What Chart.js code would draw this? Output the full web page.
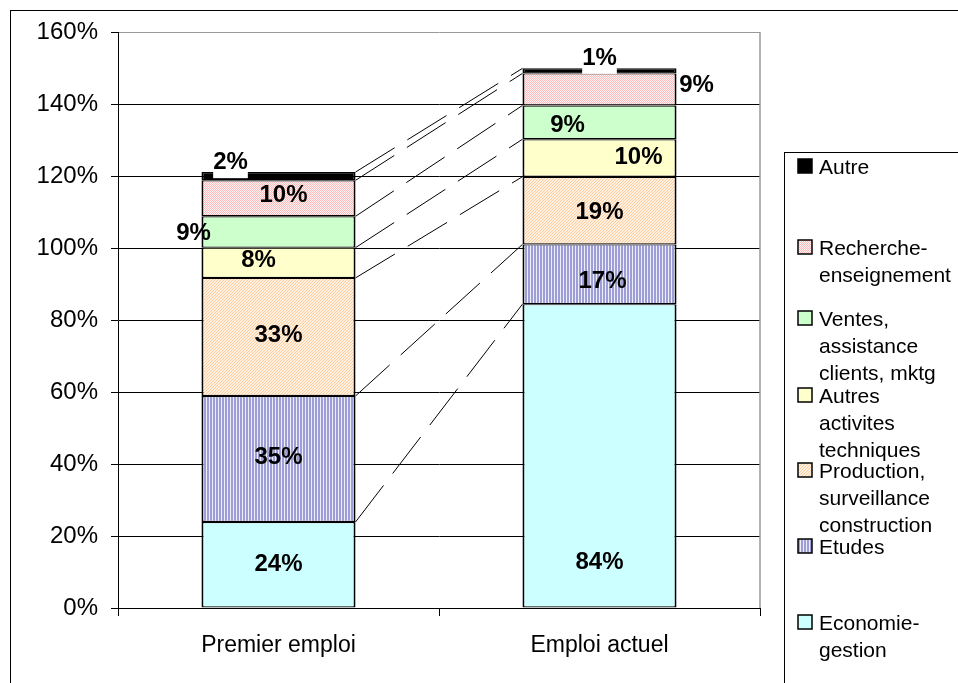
<!DOCTYPE html>
<html>
<head>
<meta charset="utf-8">
<script src="https://cdn.jsdelivr.net/npm/chart.js@4/dist/chart.umd.min.js"></script>
<style>
  html, body { margin: 0; padding: 0; background: #fff; }
</style>
</head>
<body>
<canvas id="chart" width="958" height="683"></canvas>
<script>
// categories and series (percent of graduates, bars sum over 100)
const categories = ['Premier emploi', 'Emploi actuel'];
const economieGestion = [23.9, 84.4];
const etudes = [35.0, 16.6];
const production = [32.8, 18.8];
const autresActivites = [8.4, 10.4];
const ventes = [8.7, 9.4];
const recherche = [10.0, 8.9];
const autre = [2.3, 1.4];
const seriesNames = ['Economie-gestion', 'Etudes', 'Production, surveillance construction',
  'Autres activites techniques', 'Ventes, assistance clients, mktg', 'Recherche-enseignement', 'Autre'];
const yTicks = [0, 20, 40, 60, 80, 100, 120, 140, 160];

const FONT = '"Liberation Sans", Arial, sans-serif';

function makePattern(w, h, draw) {
  const c = document.createElement('canvas');
  c.width = w; c.height = h;
  const g = c.getContext('2d');
  draw(g);
  return g.createPattern(c, 'repeat');
}
const px = (g, x, y, col) => { g.fillStyle = col; g.fillRect(x, y, 1, 1); };

const stripes = makePattern(3, 1, g => {
  g.fillStyle = '#9e9ed6'; g.fillRect(0, 0, 2, 1);
  px(g, 2, 0, '#eeeefb');
});
const hatch = makePattern(3, 3, g => {
  g.fillStyle = '#fff0e2'; g.fillRect(0, 0, 3, 3);
  for (let i = 0; i < 3; i++) px(g, i, 2 - i, '#ffcc9c');
});
const dots = makePattern(2, 2, g => {
  g.fillStyle = '#fff2f2'; g.fillRect(0, 0, 2, 2);
  px(g, 0, 0, '#ffbcbc'); px(g, 1, 1, '#ffbcbc');
});

const fills = ['#ccffff', stripes, hatch, '#ffffcc', '#ccffcc', dots, '#000000'];

// legend text broken like the original, and where each item sits
const legendLines = [['Economie-', 'gestion'], ['Etudes'], ['Production,', 'surveillance', 'construction'],
  ['Autres', 'activites', 'techniques'], ['Ventes,', 'assistance', 'clients, mktg'],
  ['Recherche-', 'enseignement'], ['Autre']];
const legendBaseline = [630, 554, 478, 403, 326, 255, 174];

// hand placed label offsets from segment centre [dx, dy] per bar
const labelOffsets = [
  [[0, 0], [0, 107]],
  [[0, -2], [3, 7]],
  [[0, -2], [0, 2]],
  [[-20, -2], [39, -1]],
  [[-85, 1], [-32, 3]],
  [[5, -3], [97, -4]],
  [[-48, -14], [0, -13]]
];
const labelBoxed = [false, false, false, false, false, false, true];

const values = [economieGestion, etudes, production, autresActivites, ventes, recherche, autre];

const frame = {
  id: 'frame',
  beforeDraw(chart) {
    const ctx = chart.ctx;
    ctx.save();
    ctx.fillStyle = '#fff';
    ctx.fillRect(0, 0, chart.width, chart.height);
    ctx.strokeStyle = '#000';
    ctx.lineWidth = 1;
    ctx.strokeRect(10.5, 10.5, chart.width + 20, chart.height + 20);
    ctx.restore();
  },
  beforeDatasetsDraw(chart) {
    const { ctx, chartArea: a } = chart;
    ctx.save();
    ctx.strokeStyle = '#999';
    ctx.lineWidth = 1.5;
    ctx.beginPath();
    ctx.moveTo(a.right, a.top);
    ctx.lineTo(a.right, a.bottom);
    ctx.stroke();
    ctx.restore();
  }
};

const seriesLines = {
  id: 'seriesLines',
  afterDatasetsDraw(chart) {
    const ctx = chart.ctx;
    ctx.save();
    ctx.strokeStyle = '#000';
    ctx.lineWidth = 1;
    ctx.setLineDash([46, 15]);
    chart.data.datasets.forEach((ds, i) => {
      const [a, b] = chart.getDatasetMeta(i).data;
      ctx.beginPath();
      ctx.moveTo(a.x + a.width / 2, a.y);
      ctx.lineTo(b.x - b.width / 2, b.y);
      ctx.stroke();
    });
    ctx.restore();
  }
};

const valueLabels = {
  id: 'valueLabels',
  afterDatasetsDraw(chart) {
    const ctx = chart.ctx;
    ctx.save();
    ctx.font = 'bold 24px ' + FONT;
    ctx.textAlign = 'center';
    ctx.textBaseline = 'middle';
    chart.data.datasets.forEach((ds, i) => {
      chart.getDatasetMeta(i).data.forEach((el, j) => {
        const txt = Math.round(ds.data[j]) + '%';
        const x = el.x + labelOffsets[i][j][0];
        const y = (el.y + el.base) / 2 + labelOffsets[i][j][1];
        if (labelBoxed[i]) {
          const w = ctx.measureText(txt).width;
          ctx.fillStyle = '#fff';
          ctx.fillRect(x - w / 2, y - 15, w, 31);
        }
        ctx.fillStyle = '#000';
        ctx.fillText(txt, x, y);
      });
    });
    ctx.restore();
  }
};

const sideLegend = {
  id: 'sideLegend',
  afterDraw(chart) {
    const ctx = chart.ctx;
    ctx.save();
    ctx.strokeStyle = '#000';
    ctx.lineWidth = 1;
    ctx.strokeRect(784.5, 152.5, 400, 600);
    ctx.font = '21px ' + FONT;
    ctx.textAlign = 'left';
    ctx.textBaseline = 'alphabetic';
    chart.data.datasets.forEach((ds, i) => {
      const base = legendBaseline[i];
      ctx.fillStyle = ds.backgroundColor;
      ctx.fillRect(798, base - 15, 14, 14);
      ctx.strokeStyle = '#000';
      ctx.lineWidth = 1.5;
      ctx.strokeRect(798, base - 15, 14, 14);
      ctx.fillStyle = '#000';
      legendLines[i].forEach((line, k) => ctx.fillText(line, 819, base + k * 27));
    });
    ctx.restore();
  }
};

new Chart(document.getElementById('chart'), {
  type: 'bar',
  data: {
    labels: categories,
    datasets: values.map((v, i) => ({
      label: seriesNames[i],
      data: v,
      backgroundColor: fills[i],
      borderColor: '#000',
      borderWidth: { left: 2, right: 2, top: 1.2, bottom: 1.2 },
      borderSkipped: false,
      barPercentage: 0.48,
      categoryPercentage: 1
    }))
  },
  options: {
    responsive: false,
    animation: false,
    layout: { padding: { top: 32, right: 198, left: 0, bottom: 0 } },
    plugins: { legend: { display: false }, tooltip: { enabled: false } },
    scales: {
      x: {
        stacked: true,
        offset: true,
        afterFit: s => { s.height = 75; },
        grid: { offset: true, drawOnChartArea: false, tickLength: 8, color: '#000' },
        border: { color: '#000', width: 1 },
        ticks: { color: '#000', font: { family: FONT, size: 23 }, padding: 16 }
      },
      y: {
        stacked: true,
        min: 0,
        max: 160,
        afterFit: s => { s.width = 118; },
        afterBuildTicks: s => { s.ticks = yTicks.map(v => ({ value: v })); },
        grid: {
          color: c => (c.tick && c.tick.value === 160 ? '#999' : '#000'),
          tickColor: '#000',
          tickLength: 7,
          lineWidth: 1
        },
        border: { color: '#000', width: 1 },
        ticks: {
          color: '#000',
          padding: 13,
          font: { family: FONT, size: 24 },
          callback: v => v + '%'
        }
      }
    }
  },
  plugins: [frame, seriesLines, valueLabels, sideLegend]
});
</script>
</body>
</html>
